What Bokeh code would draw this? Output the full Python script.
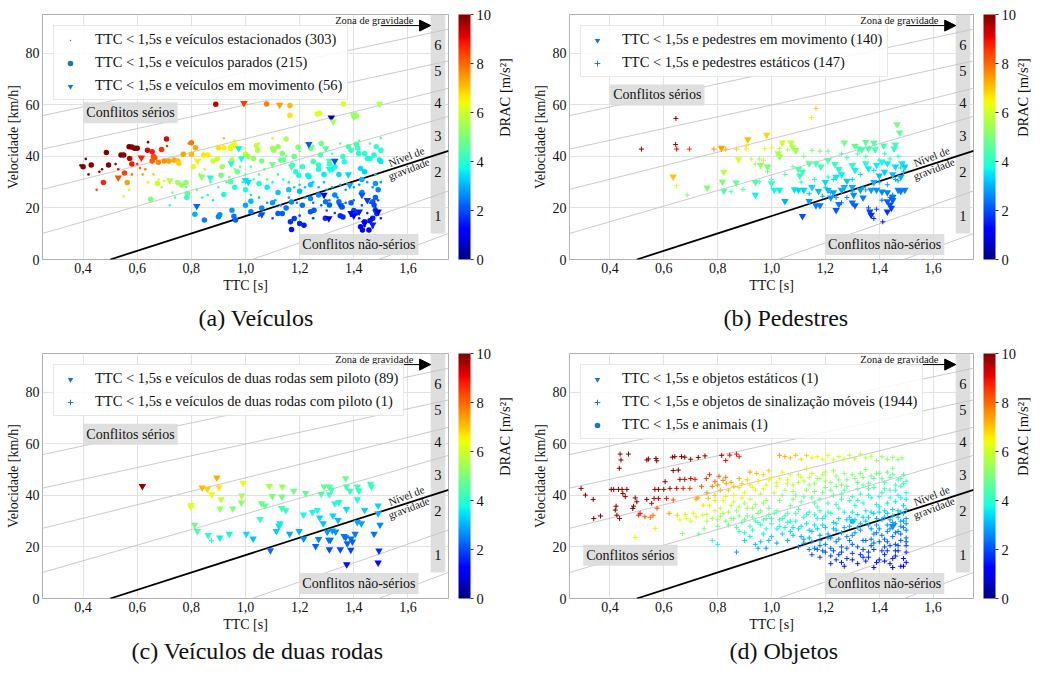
import math
import numpy as np
from bokeh.plotting import figure
from bokeh.layouts import column, row
from bokeh.models import (ColumnDataSource, LinearColorMapper, ColorBar, Label, Legend, LegendItem, LinearAxis,
                          FixedTicker, CustomJSTickFormatter, Arrow, NormalHead, Title, BoxAnnotation, Range1d)
from bokeh.embed import file_html
from bokeh.resources import INLINE
from bokeh.core.properties import value

FONT = "Liberation Serif"

# ---------------- data (TTC [s], velocidade [km/h]) ----------------
a_estacionados = [(0.39,36.5),(0.41,39),(0.42,33),(0.45,27),(0.46,34),(0.47,35),(0.52,37),(0.53,35),(0.55,24.5),(0.57,27),
 (0.58,33),(0.60,37),(0.61,35.5),(0.62,33),(0.63,35),(0.64,30),(0.66,33),(0.68,31),(0.69,28),(0.70,30.5),(0.72,21),(0.73,26),
 (0.74,24),(0.71,44),(0.64,45.5),(0.78,28),(0.82,27),(0.84,24),(0.86,25),(0.88,23),(0.79,45),(0.92,47),(0.96,46),(1.1,47),
 (1.5,47),(0.83,33),(0.85,35),(0.87,30),(0.9,28),(0.93,30),(0.94,32),(0.96,35),(0.98,36),(0.99,30),(1.0,33),(1.02,36),(1.03,31),
 (1.05,33),(1.07,35),(1.08,31),(1.1,30),(1.12,33),(1.14,31),(1.16,30),(1.18,28),(1.2,29),(1.22,28),(1.25,30),(1.27,28),(1.29,30),
 (1.3,27),(1.32,28),(1.35,29),(1.37,27),(1.4,28),(1.42,29),(1.45,30),(1.47,28),(1.5,30),(1.02,25),(1.05,24),(1.08,22),(1.11,23),
 (1.13,21),(1.16,24),(1.19,22),(1.22,24),(1.25,22),(1.28,21),(1.31,23),(1.34,24),(1.37,22),(1.4,23),(1.43,21),(1.46,22),(1.49,23),
 (1.3,19),(1.33,18),(1.36,20),(1.39,17),(1.42,16),(1.45,18),(1.48,20),(1.5,16),(1.44,13),(1.47,12.5),(1.2,17),(1.25,16),(1.05,17),
 (1.1,16),(1.15,40),(1.2,42),(1.25,44),(1.32,41),(1.35,45),(1.42,46),(1.46,45),(1.48,33),(1.05,45),(1.0,43)]
a_parados = [(0.40,36),(0.43,36.6),(0.486,41.5),(0.494,36.6),(0.475,29.9),(0.54,40.5),(0.55,40.5),(0.57,43.7),(0.58,43.6),
 (0.59,43.1),(0.60,43.1),(0.572,39.2),(0.58,37),(0.553,33.5),(0.563,29.9),(0.638,42.4),(0.655,41.8),(0.66,39.9),(0.655,38.2),
 (0.665,39.5),(0.69,42.7),(0.708,46.7),(0.678,37.7),(0.70,38.2),(0.717,38.2),(0.736,38.6),(0.75,38.2),(0.77,40.8),(0.80,45.3),
 (0.815,43.3),(0.80,40.8),(0.754,37.3),(0.675,29.5),(0.65,23.4),(0.75,29.9),(0.765,28.8),(0.78,29.9),(0.785,25.6),(0.783,24),
 (0.807,36),(0.845,40.5),(0.86,40.5),(0.88,38.2),(0.896,39.2),(0.90,43.3),(0.92,43.3),(0.914,36),(0.91,32.7),(0.947,43.7),
 (0.96,44.4),(0.95,38.6),(0.92,25.2),(0.813,17.5),(0.848,15.3),(0.90,16.6),(0.905,17.4),(0.957,16.8),(0.89,60.2),(1.078,60.3),
 (1.164,59.7),(1.164,55.8),(1.265,56.4),(1.274,56.7),(1.362,60.3),(1.41,55.6),(0.957,44.1),(0.945,43),(1.0,40.8),(1.01,39.9),
 (1.03,39.2),(1.04,44.1),(1.045,42.4),(1.06,38.2),(1.10,43.1),(1.105,42.4),(1.12,43.7),(1.136,41.1),(1.15,46.7),(1.13,38.6),
 (1.14,38.6),(1.173,36.6),(1.18,39.9),(1.194,43.5),(1.24,43.1),(1.277,40.5),(1.27,36.6),(1.36,39.9),(1.365,37.9),(1.38,43.7),
 (1.39,42.4),(1.41,44.7),(1.415,43.1),(1.418,41.1),(1.44,41.1),(1.45,39.2),(1.46,39.2),(1.475,40.5),(1.483,43.7),(1.5,42.4),
 (1.495,38.6),(1.28,45),(1.31,37),(1.33,36),(1.25,38),(1.21,36),(0.945,30.1),(0.97,34),(1.05,29.5),(1.185,34),(1.197,32.7),
 (1.23,32.7),(1.235,32.1),(1.27,35),(1.29,33),(1.32,35),(1.345,33),(1.425,35.3),(1.44,34),(1.48,29.5),(1.43,31),(1.2,26.5),
 (1.16,27),(1.12,26),(1.08,28),(1.0,27),(0.96,28),(1.5,38),(1.49,27),(1.24,29),(0.95,19.1),(0.963,15.3),(1.02,22.6),(1.02,18.5),
 (1.12,17.8),(1.136,17.8),(1.17,22.3),(1.166,14.6),(1.18,15.9),(1.2,14),(1.216,13.3),(1.17,11.6),(1.24,23.7),(1.24,18.5),
 (1.253,19.1),(1.296,22.4),(1.31,21.1),(1.295,16),(1.345,22.4),(1.357,20.4),(1.35,17),(1.36,16.5),(1.425,12.7),(1.432,11.4),
 (1.44,14.6),(1.47,22.4),(1.475,21.1),(1.48,19.1),(1.485,17.8),(1.47,16),(1.46,15),(1.456,11.4),(1.40,19),(1.41,18),(1.39,22),
 (1.33,25),(1.27,25),(1.21,21),(1.10,22),(1.06,20),(1.0,21),(1.43,26),(1.48,24),(1.15,20)]
a_movimento = [(0.53,31.7,8.2),(0.615,39.5,8.8),(0.72,30.7,5.8),(0.823,38.2,6.5),(0.838,32.1,5.3),(0.87,31.7,3.8),
 (0.82,20.7,2.3),(0.947,37.3,3.9),(0.975,43.1,3.6),(0.994,60.6,8.5),(1.126,59.9,7.4),(1.317,55,0.5),(1.324,53.4,5.5),
 (1.40,56.3,5.2),(1.40,55.4,5.2),(1.495,60.3,5.6),(0.985,39.2,3.9),(1.0,30.8,3.5),(1.01,30.1,3.4),(1.06,17.5,2.0),
 (1.234,44.7,2.2),(1.296,43.1,4.5),(1.31,38.2,4.3),(1.33,38.2,2.1),(1.385,28.8,3.0),(1.29,25,1.0),(1.308,15.9,0.8),
 (1.39,18,1.3),(1.40,17,1.2),(1.42,18.5,1.5),(1.44,14,1.2),(1.43,25,2.1),(1.49,18.5,1.0),(1.47,13.5,1.6),(1.10,37,4.9),
 (1.17,36,4.3),(1.31,35,3.7),(1.38,33,3.4),(1.35,21,2.0),(1.45,23,1.8)]

b_movimento = [(0.635,32.1),(0.814,43.3),(0.912,46.6),(0.982,48.3),(0.878,38.8),(0.823,34),(0.818,30.1),(0.869,29.8),
 (0.761,27.9),(0.823,26.6),(0.94,25),(1.04,45.3),(1.072,45.3),(1.078,43.7),(1.09,42.4),(1.03,39.9),(1.025,41.1),(0.96,36.6),
 (0.985,36),(1.27,45.3),(1.31,44),(1.35,45.5),(1.38,45.2),(1.417,44.1),(1.325,43),(1.335,42.7),(1.36,43),(1.385,42.7),
 (1.466,52.4),(1.476,49.2),(1.455,43),(1.46,44.5),(1.10,35),(1.105,32.5),(1.115,34),(1.14,37.3),(1.165,37.3),(1.183,36),
 (1.21,38.5),(1.235,37),(1.25,35),(1.26,33),(1.30,36.6),(1.31,34.6),(1.35,37.3),(1.36,35.3),(1.39,36.6),(1.41,37.9),(1.43,37.3),
 (1.46,36),(1.485,37.3),(1.495,36),(1.01,27),(1.03,27),(1.085,27.2),(1.1,27),(1.12,27),(1.05,22.6),(1.14,22.6),(1.165,21),
 (1.18,21),(1.115,16.8),(1.24,19.1),(1.25,21.5),(1.22,24),(1.30,28),(1.305,25),(1.34,24),(1.33,27),(1.37,27),(1.39,27),
 (1.41,26.3),(1.43,26),(1.45,24.2),(1.47,27),(1.48,26.5),(1.495,27),(1.30,22),(1.31,21),(1.365,18.5),(1.37,17.3),(1.43,22.5),
 (1.44,21.3),(1.45,23),(1.445,20),(1.43,18.5),(1.0,29.5),(0.94,30),(1.2,30),(1.24,32),(1.27,28),(1.28,30.5),(1.15,28),
 (1.175,26.5),(1.21,27),(1.23,26),(1.26,27),(1.38,30),(1.40,32.5),(1.42,34),(1.45,33),(1.48,32)]
b_estaticos = [(0.645,54.7),(0.517,42.8),(0.644,44.6),(0.648,42.8),(0.695,42.8),(0.786,42.8),(0.83,42.8),(0.87,42.8),
 (0.906,42.8),(0.906,44.1),(0.648,28.6),(0.687,25),(1.165,58.6),(1.149,55),(0.925,39),(0.94,37),(0.955,39),(0.97,38.5),
 (0.99,36),(0.985,34),(0.975,43),(1.0,43.3),(1.03,43),(1.06,42.5),(1.09,41.8),(1.15,42.3),(1.18,42),(1.21,42),(0.955,30.1),
 (0.894,27.2),(0.85,26.3),(1.21,32),(1.23,31),(1.26,33),(1.2,28),(1.22,26),(1.24,24),(1.34,28),(1.35,27),(1.38,15.9),
 (1.413,14.6),(1.36,20),(1.39,19.5),(1.41,23),(1.44,24),(1.45,25),(1.46,31),(1.48,35.5),(1.49,34),(1.47,40),(1.44,39),
 (1.42,41),(1.4,38.5),(1.35,40),(1.32,41),(1.28,39.5),(1.26,41),(1.12,40),(1.08,36),(1.05,33),(1.0,31),(1.11,30),(1.16,31),
 (1.3,31),(1.33,33),(1.38,34.5),(1.3,26.5),(1.28,24),(1.26,22),(1.19,24.5),(1.14,25.5),(1.4,30),(1.43,29),(1.47,30.5)]

c_sem_piloto = [(0.619,43.6),(0.798,35.6),(0.80,36.2),(0.812,28.5),(0.822,26.1),(0.84,43),(0.859,42.5),(0.875,40.4),(0.862,24.6),
 (0.894,46.9),(0.902,43.1),(0.91,38.4),(0.906,34.8),(0.905,23.6),(0.94,25),(0.953,34.8),(0.991,44.7),(0.986,39.9),(0.985,37.2),
 (1.003,25),(1.028,23.2),(1.054,30.8),(1.059,36.9),(1.071,36),(1.088,43.6),(1.092,18.6),(1.099,39.7),(1.114,26.1),(1.124,28.1),
 (1.127,29.1),(1.134,35),(1.149,34.2),(1.136,43.4),(1.134,39.5),(1.163,25),(1.178,41.7),(1.198,26.1),(1.214,32.5),(1.215,23.2),
 (1.222,40.8),(1.247,33.5),(1.259,20.3),(1.265,34.3),(1.27,23),(1.274,31.3),(1.28,40.5),(1.287,29.1),(1.29,43.4),(1.31,43.4),
 (1.317,42.1),(1.31,40.4),(1.302,25.8),(1.308,22.7),(1.313,22.7),(1.31,19),(1.323,32.1),(1.321,26.3),(1.333,25.9),(1.33,36.9),
 (1.345,37.4),(1.342,30.4),(1.35,19),(1.364,24.2),(1.37,46.6),(1.373,43.4),(1.373,34.6),(1.37,23.7),(1.374,13.2),(1.376,21.4),
 (1.386,41.7),(1.39,23.2),(1.395,22),(1.389,18.8),(1.405,25),(1.413,38.4),(1.413,43.4),(1.419,41.8),(1.413,29.6),(1.428,29.1),
 (1.44,34.3),(1.462,44.4),(1.465,43.4),(1.475,25),(1.49,36),(1.49,33),(1.493,18.5),(1.49,13.9),(1.497,28.5)]
c_com_piloto = [(0.875,22.4)]

d_estaticos = [(1.45,28.0)]
d_animais = [(1.30,30.0)]
d_sinalizacao = [(0.293,42.7),(0.309,40.1),(0.338,38.4),(0.34,31),(0.365,32),(0.438,56),(0.469,56),(0.441,53.7),(0.435,50.5),
 (0.405,42.3),(0.414,42.3),(0.432,42.3),(0.445,42.3),(0.463,42.3),(0.423,35.8),(0.42,34.3),(0.448,40.7),(0.457,39.5),
 (0.426,32.3),(0.436,31),(0.494,39),(0.488,35.8),(0.485,34.9),(0.5,37.5),(0.537,53.7),(0.543,54.1),(0.571,54.3),(0.574,53.4),
 (0.567,42.3),(0.58,42.3),(0.6,42.3),(0.605,45.3),(0.564,38.8),(0.58,38.8),(0.537,38.4),(0.555,36.9),(0.512,33),(0.507,32.3),
 (0.53,31.7),(0.632,54.8),(0.641,55),(0.666,55),(0.678,54.8),(0.7,54),(0.728,54.7),(0.753,55.3),(0.635,49.6),(0.654,49.8),
 (0.66,46.2),(0.623,42.7),(0.648,42.7),(0.672,42.7),(0.697,42.7),(0.678,46.2),(0.7,46.5),(0.716,46.2),(0.61,38.8),(0.635,38.2),
 (0.575,35),(0.56,32.3),(0.55,31.5),(0.62,33),(0.65,32.3),(0.66,30.5),(0.679,32.6),(0.685,31),(0.74,43.5),(0.758,46.5),
 (0.77,48),(0.79,45.3),(0.805,47.4),(0.82,45.8),(0.832,44.5),(0.845,55.6),(0.87,56),(0.88,55),(0.815,55.5),(0.83,53.5),
 (0.92,49),(0.945,48.5),(0.97,48),(0.99,49.5),(0.72,38.5),(0.727,39),(0.746,36.2),(0.765,38.8),(0.79,40),(0.71,33),(0.72,31.7),
 (0.745,32.4),(0.76,30),(0.568,27.2),(0.494,23.7),(0.67,25.2),(0.78,22.5),(0.8,21),(0.84,42),(0.86,40),(0.88,43),(0.9,41),
 (0.92,44),(0.94,42),(0.96,40.5),(0.98,44),(0.82,38),(0.85,36),(0.87,34),(0.9,37),(0.93,35),(0.95,33),(0.97,37),(0.99,35),
 (0.81,32),(0.83,30),(0.86,31),(0.89,29.5),(0.91,32),(0.94,30),(0.96,28.5),(0.98,31),(1.0,29),(0.88,26),(0.92,24),(0.96,22),
 (1.0,24),(0.95,19.5),(0.87,18),(0.9,25.5),(0.79,34),(0.8,28),(0.75,27),(0.73,25),(0.7,30),(1.03,55.5),(1.05,55),(1.07,54.5),
 (1.09,55.5),(1.11,54),(1.13,55.5),(1.15,54.5),(1.17,55),(1.19,54),(1.21,55.5),(1.23,53.8),(1.25,55),(1.27,54),(1.29,55.5),
 (1.31,54.2),(1.33,56),(1.35,54.5),(1.37,55.2),(1.39,53.5),(1.41,55),(1.43,54),(1.45,54.8),(1.47,53.8),(1.485,54.5),(1.0,47),
 (1.02,45),(1.04,49),(1.06,46),(1.08,44),(1.10,48),(1.12,45.5),(1.14,47),(1.16,44.5),(1.18,46.5),(1.2,49),(1.22,45),(1.24,47.5),
 (1.26,44),(1.28,46),(1.3,48),(1.32,45),(1.34,47),(1.36,44.5),(1.38,46.5),(1.4,48.5),(1.42,45),(1.44,47),(1.46,44),(1.48,46.5),
 (1.5,45.5),(1.49,48),(1.13,50.5),(1.35,50),(1.45,50.5),(1.01,41),(1.03,38),(1.05,42),(1.07,36),(1.09,40),(1.11,37.5),
 (1.13,42),(1.15,39),(1.17,35.5),(1.19,41),(1.21,37),(1.23,40),(1.25,35),(1.27,42),(1.29,38),(1.31,36),(1.33,40.5),(1.35,34),
 (1.37,39),(1.39,36.5),(1.41,41),(1.43,37),(1.45,34.5),(1.47,40),(1.49,36),(1.5,38.5),(1.02,34),(1.06,33),(1.1,34.5),
 (1.14,33.5),(1.18,34),(1.22,33),(1.26,38.5),(1.3,33.5),(1.34,37),(1.38,33),(1.42,34),(1.46,37.5),(1.48,33.5),(1.5,34.5),
 (1.44,42),(1.36,42.5),(1.2,43),(1.08,38.5),(1.16,37),(1.24,36.5),(1.32,38),(1.4,35.5),(1.48,39),(1.0,31),(1.03,28),(1.05,32),
 (1.07,26),(1.09,30),(1.11,24),(1.13,29),(1.15,22),(1.17,27),(1.19,31),(1.21,25),(1.23,29.5),(1.25,23),(1.27,27.5),(1.29,31.5),
 (1.31,25.5),(1.33,29),(1.35,22.5),(1.37,27),(1.39,31),(1.41,24.5),(1.43,28.5),(1.45,32),(1.47,26),(1.49,30),(1.5,23.5),
 (1.02,21.5),(1.06,22.5),(1.1,20),(1.14,19),(1.18,20.5),(1.22,19.5),(1.26,20),(1.3,21),(1.34,19),(1.38,21.5),(1.42,20),
 (1.46,21),(1.5,20.5),(1.48,28),(1.44,30.5),(1.4,27),(1.36,31.5),(1.32,32.5),(1.28,24),(1.24,26.5),(1.2,32),(1.16,28.5),
 (1.12,31.5),(1.08,27.5),(1.04,25),(1.47,31.5),(1.49,33),(1.43,33),(1.46,29),(1.5,31),(1.48,25),(1.45,24),(1.42,23),(1.39,25.5),
 (1.37,23),(1.15,17),(1.18,16),(1.2,18),(1.22,13.5),(1.24,15),(1.26,14),(1.28,15.5),(1.3,17.5),(1.32,13.5),(1.34,16),(1.36,18),
 (1.38,12),(1.4,15),(1.42,17),(1.44,13.5),(1.46,16.5),(1.48,12.5),(1.5,14),(1.47,18.5),(1.43,18.5),(1.35,14.5),(1.25,17),(1.17,19),
 (0.76,41),(0.78,43.5),(0.8,44),(0.81,42),(0.83,47),(0.85,45),(0.86,43.5),(0.88,46.5),(0.89,44.5),(0.91,46),(0.93,43),
 (0.95,45.5),(0.97,42.5),(0.99,46),(0.77,36),(0.79,38),(0.81,35),(0.83,39.5),(0.84,33.5),(0.86,37.5),(0.88,35.5),(0.89,39),
 (0.91,35),(0.92,38.5),(0.94,36.5),(0.96,34),(0.98,38),(0.99,32.5),(0.76,32.5),(0.78,31),(0.8,30.5),(0.82,33),(0.84,28.5),
 (0.85,31),(0.87,27.5),(0.88,32),(0.9,30.5),(0.92,28),(0.93,31.5),(0.95,29.5),(0.97,30.5),(0.98,27),(0.97,25),(0.93,26.5),
 (0.99,22.5),(0.94,21),(0.9,22.5),(0.98,19.5),(1.02,43.5),(1.04,40),(1.06,44.5),(1.08,41.5),(1.1,45),(1.12,39.5),(1.14,44),
 (1.16,41.5),(1.18,38.5),(1.2,45.5),(1.22,42),(1.24,43.5),(1.26,40.5),(1.28,43.5),(1.3,39.5),(1.32,42.5),(1.34,44),(1.36,40),
 (1.38,43),(1.4,39.5),(1.42,42.5),(1.44,39),(1.46,42),(1.48,43.5),(1.5,41),(1.49,44.5),(1.47,46),(1.45,48),(1.43,49),
 (1.41,46.5),(1.39,48.5),(1.37,47.5),(1.33,48.5),(1.31,46.5),(1.27,48.5),(1.25,46),(1.23,49.5),(1.19,48),(1.17,46.5),
 (1.15,48.5),(1.11,47),(1.07,48),(1.03,46.5),(1.01,33),(1.03,30.5),(1.05,27.5),(1.07,30),(1.09,33),(1.11,28),(1.13,32.5),
 (1.15,26),(1.17,31),(1.19,28.5),(1.21,33.5),(1.23,27),(1.25,31),(1.27,33.5),(1.29,28),(1.31,30.5),(1.33,26.5),(1.35,30),
 (1.37,33.5),(1.39,28.5),(1.41,30.5),(1.43,26),(1.45,29.5),(1.47,34),(1.49,27.5),(1.5,29),(1.5,26.5),(1.48,30),(1.46,25.5),
 (1.44,27),(1.42,31.5),(1.4,33.5),(1.38,25),(1.36,28.5),(1.34,31.5),(1.32,27.5),(1.3,24.5),(1.28,30.5),(1.26,25.5),(1.24,29),
 (1.22,23.5),(1.2,27.5),(1.18,24.5),(1.16,32.5),(1.14,26.5),(1.12,23),(1.1,27),(1.08,24.5),(1.06,29.5),(1.04,31),(1.02,27),
 (1.12,21.5),(1.14,23.5),(1.16,19.5),(1.18,22.5),(1.2,21),(1.22,16.5),(1.24,22),(1.26,18),(1.28,19.5),(1.3,15),(1.32,20),
 (1.34,22.5),(1.36,16),(1.38,19),(1.4,22),(1.42,14.5),(1.44,20.5),(1.46,18.5),(1.48,22.5),(1.5,18),(1.49,15.5),(1.47,20.5),
 (1.45,15.5),(1.43,22),(1.41,18.5),(1.39,14),(1.37,20.5),(1.33,17),(1.29,22.5),(1.27,12.5),(1.23,18.5),(1.21,23.5),
 (1.19,18.5),(1.45,12),(1.49,12.5),(1.5,22)]

# severity-zone guide lines (TTC, km/h endpoints) and the gravity-level line
zone_x0 = [0.25, 0.25, 0.25, 0.25, 1.024, 1.492]
zone_y0 = [55.8, 42.8, 27.2, 10.1, 0.0, 0.0]
zone_x1 = [1.75, 1.75, 1.75, 1.75, 1.75, 1.75]
zone_y1 = [89.3, 77.0, 66.4, 55.5, 26.6, 10.1]
grav_x = [0.5, 1.75]
grav_y = [0.0, 42.1]
zone_labels = ["1", "2", "3", "4", "5", "6"]
zone_label_y = [16.8, 33.8, 47.9, 60.8, 72.9, 83.2]
x_ticks = [0.4, 0.6, 0.8, 1.0, 1.2, 1.4, 1.6]
y_ticks = [0, 20, 40, 60, 80]
drac_ticks = [0, 2, 4, 6, 8, 10]


def jet_palette(n=256):
    t = np.linspace(0, 1, n)
    r = np.interp(t, [0, 0.35, 0.66, 0.89, 1], [0, 0, 1, 1, 0.5])
    g = np.interp(t, [0, 0.125, 0.375, 0.64, 0.91, 1], [0, 0, 1, 1, 0, 0])
    b = np.interp(t, [0, 0.11, 0.34, 0.65, 1], [0.5, 1, 1, 0, 0])
    return ["#%02x%02x%02x" % (int(round(255 * a)), int(round(255 * bb)), int(round(255 * c))) for a, bb, c in zip(r, g, b)]


JET = jet_palette()
LEG_BLUE = "#1f77b4"
TXT = "#111111"


def make_source(pts):
    x = [p[0] for p in pts]
    y = [p[1] for p in pts]
    if len(pts[0]) == 3:
        d = [p[2] for p in pts]
    else:
        # DRAC = v / (2 TTC), v in m/s
        d = [min(10.0, (v / 3.6) / (2 * t)) for t, v in zip(x, y)]
    return ColumnDataSource(dict(x=x, y=y, drac=d))


MARK = {
    "dot": dict(marker="circle", size=2.6, line_width=0),
    "circle": dict(marker="circle", size=5.5, line_width=0),
    "tri": dict(marker="inverted_triangle", size=7.5, line_width=0),
    "plus": dict(marker="cross", size=5, line_width=1),
}
LEG_MARK = {
    "dot": dict(marker="dot", size=6, line_width=1),
    "circle": dict(marker="circle", size=5.5, line_width=0),
    "tri": dict(marker="inverted_triangle", size=7.5, line_width=0),
    "plus": dict(marker="cross", size=5, line_width=1),
}


def panel(series, serious_y, serious_x, caption, cap_offset, width, height, mb_right, mb_bottom, cap_standoff,
          drac_standoff):
    mapper = LinearColorMapper(palette=JET, low=0, high=10)
    p = figure(width=width, height=height, x_range=Range1d(0.25, 1.75), y_range=Range1d(0, 95),
               output_backend="svg", toolbar_location=None, min_border_left=42, min_border_right=mb_right,
               min_border_top=14, min_border_bottom=mb_bottom, outline_line_color="#b0b0b0")
    p.xaxis.ticker = FixedTicker(ticks=x_ticks)
    p.yaxis.ticker = FixedTicker(ticks=y_ticks)
    p.xaxis.formatter = CustomJSTickFormatter(code="return tick.toFixed(1).replace('.', ',');")
    p.xaxis.axis_label = "TTC [s]"
    p.yaxis.axis_label = "Velocidade [km/h]"
    for ax in (p.xaxis[0], p.yaxis[0]):
        ax.axis_line_color = None
        ax.major_tick_in = 0
        ax.major_tick_out = 0
        ax.minor_tick_line_color = None
        ax.major_label_text_font = FONT
        ax.major_label_text_font_size = "14px"
        ax.major_label_text_color = TXT
        ax.axis_label_text_font = FONT
        ax.axis_label_text_font_size = "14px"
        ax.axis_label_text_font_style = "normal"
        ax.axis_label_text_color = TXT
        ax.major_label_standoff = 3
        ax.axis_label_standoff = 2
    p.grid.grid_line_color = "#e2e2e2"

    p.segment(x0=zone_x0, y0=zone_y0, x1=zone_x1, y1=zone_y1, line_color="#c4c4c4", line_width=0.9)
    p.line(grav_x, grav_y, line_color="black", line_width=1.8)

    items = []
    for s in sorted(series, key=lambda s: s["z"]):
        src = make_source(s["pts"])
        m = dict(MARK[s["kind"]])
        p.scatter(x="x", y="y", source=src,
                  fill_color={"field": "drac", "transform": mapper},
                  line_color={"field": "drac", "transform": mapper}, **m)
    for s in series:
        m = dict(LEG_MARK[s["kind"]])
        # legend-only renderer (a single NaN point, nothing visible in the frame)
        dummy = p.scatter(x=[float("nan")], y=[float("nan")], fill_color=LEG_BLUE, line_color=LEG_BLUE, **m)
        items.append(LegendItem(label=s["label"], renderers=[dummy]))

    legend = Legend(items=items, location="top_left", margin=11, padding=5, spacing=6,
                    glyph_width=22, glyph_height=14, label_height=14, label_standoff=14,
                    label_text_font=FONT, label_text_font_size="14.5px", label_text_color=TXT,
                    border_line_color="#d0d0d0", border_line_width=1,
                    background_fill_color="white", background_fill_alpha=0.85)
    p.add_layout(legend)

    p.add_layout(BoxAnnotation(left=1.684, right=1.738, bottom=10.1, top=95,
                               fill_color="#dedede", fill_alpha=1.0, line_color=None, level="underlay"))
    p.text(x=[1.711] * len(zone_labels), y=zone_label_y, text=zone_labels, text_align="center",
           text_baseline="middle", text_font=value(FONT), text_font_size="14.5px", text_color=TXT)

    p.add_layout(Label(x=1.62, y=92.6, text="Zona de gravidade", text_align="right", text_baseline="middle",
                       text_font=FONT, text_font_size="10.5px", text_color=TXT))
    p.add_layout(Arrow(end=NormalHead(size=11, fill_color="black", line_color="black"),
                       x_start=1.50, y_start=90.7, x_end=1.684, y_end=90.7, line_width=1, line_color="black"))
    p.add_layout(Label(x=1.594, y=39.9, text="Nível de", angle=21, angle_units="deg", text_align="center",
                       text_baseline="middle", text_font=FONT, text_font_size="11px", text_color=TXT))
    p.add_layout(Label(x=1.603, y=35.2, text="gravidade", angle=21, angle_units="deg", text_align="center",
                       text_baseline="middle", text_font=FONT, text_font_size="11px", text_color=TXT))

    for (tx, ty, t) in [(serious_x, serious_y, "Conflitos sérios"), (1.199, 5.8, "Conflitos não-sérios")]:
        lab = Label(x=tx, y=ty, text=t, text_align="left", text_baseline="middle", text_font=FONT,
                    text_font_size="14px", text_color=TXT, background_fill_color="#dcdcdc",
                    background_fill_alpha=0.9)
        try:
            lab.padding = 3
        except Exception:
            pass
        p.add_layout(lab)

    cb = ColorBar(color_mapper=mapper, ticker=FixedTicker(ticks=drac_ticks), width=12,
                  padding=0, margin=0, location=(10, 0), bar_line_color=None,
                  major_label_text_font=FONT, major_label_text_font_size="14.5px", major_label_text_color=TXT,
                  major_tick_out=3, major_tick_in=0, major_tick_line_color="#333333", label_standoff=3,
                  background_fill_alpha=0)
    p.add_layout(cb, "right")

    dax = LinearAxis(ticker=FixedTicker(ticks=[]), axis_label="DRAC [m/s²]", axis_line_color=None,
                     major_tick_line_color=None, minor_tick_line_color=None,
                     axis_label_text_font=FONT, axis_label_text_font_size="14.5px",
                     axis_label_text_font_style="normal", axis_label_text_color=TXT,
                     axis_label_standoff=drac_standoff)
    try:
        dax.axis_label_orientation = math.pi / 2
    except Exception:
        pass
    p.add_layout(dax, "right")

    cap = Title(text=caption, align="left", text_font=FONT, text_font_size="24px",
                text_font_style="normal", text_color=TXT, standoff=cap_standoff, offset=cap_offset)
    p.add_layout(cap, "below")
    return p


pa = panel([
    dict(pts=a_estacionados, kind="dot", z=0, label="TTC < 1,5s e veículos estacionados (303)"),
    dict(pts=a_parados, kind="circle", z=1, label="TTC < 1,5s e veículos parados (215)"),
    dict(pts=a_movimento, kind="tri", z=2, label="TTC < 1,5s e veículos em movimento (56)"),
], 56.9, 0.401, "(a) Veículos", 156, 527, 339, 79, 80, 14, 10)

pb = panel([
    dict(pts=b_movimento, kind="tri", z=0, label="TTC < 1,5s e pedestres em movimento (140)"),
    dict(pts=b_estaticos, kind="plus", z=1, label="TTC < 1,5s e pedestres estáticos (147)"),
], 63.8, 0.401, "(b) Pedestres", 154, 514, 339, 66, 80, 14, 3)

pc = panel([
    dict(pts=c_sem_piloto, kind="tri", z=0, label="TTC < 1,5s e veículos de duas rodas sem piloto (89)"),
    dict(pts=c_com_piloto, kind="plus", z=1, label="TTC < 1,5s e veículos de duas rodas com piloto (1)"),
], 63.7, 0.401, "(c) Veículos de duas rodas", 89, 527, 331, 79, 72, 2, 10)

pd_ = panel([
    dict(pts=d_estaticos, kind="tri", z=1, label="TTC < 1,5s e objetos estáticos (1)"),
    dict(pts=d_sinalizacao, kind="plus", z=0, label="TTC < 1,5s e objetos de sinalização móveis (1944)"),
    dict(pts=d_animais, kind="circle", z=2, label="TTC < 1,5s e animais (1)"),
], 16.8, 0.301, "(d) Objetos", 160, 514, 331, 66, 72, 2, 3)

layout = column(row(pa, pb), row(pc, pd_))
open("out.html", "w").write(file_html(layout, INLINE))
